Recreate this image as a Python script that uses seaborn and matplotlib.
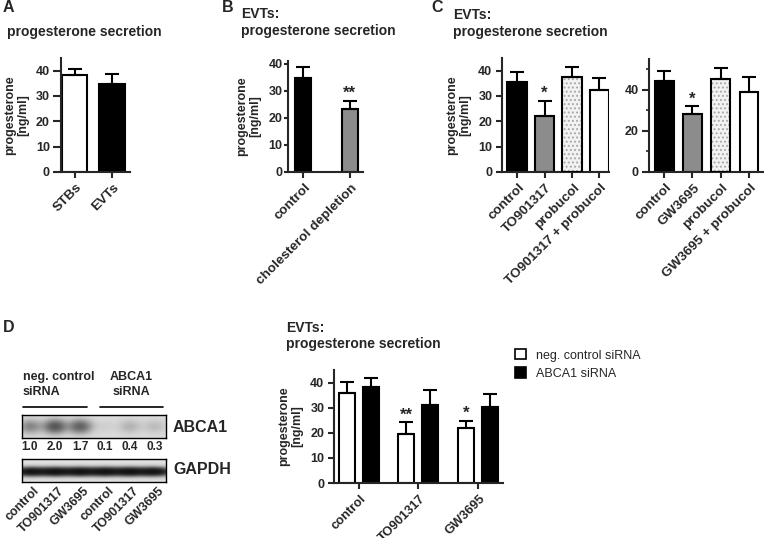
import numpy as np
import pandas as pd
import matplotlib
matplotlib.use("Agg")
import matplotlib.pyplot as plt
import matplotlib.transforms as mtransforms
from matplotlib.patches import Patch, Rectangle
from matplotlib.lines import Line2D
from matplotlib.ticker import MultipleLocator
import seaborn as sns

# ---------------- data ----------------
a_cats = ["STBs", "EVTs"]
a_vals = [38.4, 34.7]
a_errs = [2.4, 4.0]

b_cats = ["control", "cholesterol depletion"]
b_vals = [34.8, 23.1]
b_errs = [3.8, 3.3]
b_sig = ["", "**"]

c1_cats = ["control", "TO901317", "probucol", "TO901317 + probucol"]
c1_vals = [35.4, 22.0, 37.5, 32.2]
c1_errs = [3.9, 6.2, 3.9, 4.9]
c1_sig = ["", "*", "", ""]

c2_cats = ["control", "GW3695", "probucol", "GW3695 + probucol"]
c2_vals = [44.5, 28.2, 45.5, 38.7]
c2_errs = [4.6, 3.7, 5.2, 7.6]
c2_sig = ["", "*", "", ""]

d_groups = ["control", "TO901317", "GW3695"]
d_sirna = ["neg. control siRNA", "ABCA1 siRNA"]
d_neg_vals = [36.0, 19.5, 22.1]
d_neg_errs = [4.4, 4.6, 2.7]
d_neg_sig = ["", "**", "*"]
d_abca_vals = [38.4, 30.9, 30.1]
d_abca_errs = [3.3, 6.2, 5.3]

blot_lanes = ["control", "TO901317", "GW3695", "control", "TO901317", "GW3695"]
abca1_quant = [1.0, 2.0, 1.7, 0.1, 0.4, 0.3]
gapdh_level = [1.0, 1.0, 1.0, 1.0, 1.0, 1.0]

# ---------------- style ----------------
sns.set_style("ticks")
plt.rcParams["font.family"] = ["Liberation Sans", "DejaVu Sans"]
plt.rcParams["font.weight"] = "bold"
plt.rcParams["hatch.linewidth"] = 0.9

W, H = 764, 538
fig = plt.figure(figsize=(W / 100, H / 100), dpi=100)
fig.patch.set_facecolor("white")


def add_ax(x0, y0, x1, y1):
    return fig.add_axes([x0 / W, 1 - y1 / H, (x1 - x0) / W, (y1 - y0) / H])


def ftext(x, y, s, **kw):
    fig.text(x / W, 1 - y / H, s, **kw)


BLACK, WHITE, GRAY, LIGHT = "#000000", "#ffffff", "#8c8c8c", "#f2f2f2"


def style_axes(ax, ylim, xlim, ylabel=True, ylen=4.5, ypad=2.5):
    sns.despine(ax=ax)
    for s in ["left", "bottom"]:
        ax.spines[s].set_linewidth(1.5)
    ax.tick_params(axis="both", width=1.5, length=4, direction="out")
    ax.tick_params(axis="y", labelsize=9, length=ylen, pad=ypad)
    ax.set_ylim(*ylim)
    ax.set_xlim(*xlim)
    ax.set_xlabel("")
    if ylabel:
        ax.set_ylabel("progesterone\n[ng/ml]", fontsize=9, fontweight="bold",
                      linespacing=1.1, labelpad=5)
    else:
        ax.set_ylabel("")
    for lab in ax.get_yticklabels():
        lab.set_fontweight("bold")


def rot_labels(ax, cats, size=9.7):
    ax.set_xticks(range(len(cats)))
    ax.set_xticklabels(cats, rotation=45, ha="right", va="center",
                       rotation_mode="anchor", fontsize=size, fontweight="bold")
    off = mtransforms.ScaledTranslation(4 / 72, -2.5 / 72, fig.dpi_scale_trans)
    for lab in ax.get_xticklabels():
        lab.set_transform(lab.get_transform() + off)


def bar_panel(ax, cats, vals, errs, colors, width, sig=None, dotted=None):
    df = pd.DataFrame({"cat": cats, "val": vals})
    sns.barplot(data=df, x="cat", y="val", hue="cat", order=cats, hue_order=cats,
                palette=colors, legend=False, width=width, edgecolor="black",
                linewidth=1.5, saturation=1, errorbar=None, ax=ax)
    x = np.arange(len(cats))
    ax.errorbar(x, vals, yerr=[np.zeros(len(vals)), errs], fmt="none", ecolor="black",
                elinewidth=1.5, capsize=5, capthick=1.5, zorder=1)
    if dotted is not None:
        p = ax.patches[dotted]
        p.set_hatch("....")
        p.set_edgecolor("#a8a8a8")
        p.set_linewidth(0)
        ax.add_patch(Rectangle((p.get_x(), p.get_y()), p.get_width(), p.get_height(),
                               facecolor="none", edgecolor="black", lw=1.5, zorder=3))
    if sig:
        for i, s in enumerate(sig):
            if s:
                ax.text(i, vals[i] + errs[i], s, ha="center", va="bottom",
                        fontsize=12, fontweight="bold")


# ---------------- panel A ----------------
axA = add_ax(61, 58, 130, 172)
bar_panel(axA, a_cats, a_vals, a_errs, [WHITE, BLACK], 0.67)
style_axes(axA, (0, 45), (-0.36, 1.48), ylen=6, ypad=2)
axA.yaxis.set_major_locator(MultipleLocator(10))
rot_labels(axA, a_cats)

# ---------------- panel B ----------------
axB = add_ax(288, 61, 363, 172)
bar_panel(axB, b_cats, b_vals, b_errs, [BLACK, GRAY], 0.34, sig=b_sig)
style_axes(axB, (0, 41), (-0.32, 1.28), ylen=3, ypad=1)
axB.yaxis.set_major_locator(MultipleLocator(10))
rot_labels(axB, b_cats)

# ---------------- panel C ----------------
axC1 = add_ax(502, 58, 609, 172)
bar_panel(axC1, c1_cats, c1_vals, c1_errs, [BLACK, GRAY, LIGHT, WHITE], 0.7,
          sig=c1_sig, dotted=2)
style_axes(axC1, (0, 45), (-0.55, 3.35))
axC1.yaxis.set_major_locator(MultipleLocator(10))
rot_labels(axC1, c1_cats)

axC2 = add_ax(649, 59, 763, 172)
bar_panel(axC2, c2_cats, c2_vals, c2_errs, [BLACK, GRAY, LIGHT, WHITE], 0.66,
          sig=c2_sig, dotted=2)
style_axes(axC2, (0, 55), (-0.54, 3.5), ylabel=False, ylen=5)
axC2.yaxis.set_major_locator(MultipleLocator(20))
axC2.yaxis.set_minor_locator(MultipleLocator(10))
axC2.tick_params(axis="y", which="minor", width=1.2, length=2.5)
rot_labels(axC2, c2_cats)

# ---------------- panel D: bar chart ----------------
axD = add_ax(334, 370, 503, 483)
dfD = pd.DataFrame({
    "treatment": d_groups * 2,
    "siRNA": [d_sirna[0]] * 3 + [d_sirna[1]] * 3,
    "val": d_neg_vals + d_abca_vals,
})
sns.barplot(data=dfD, x="treatment", y="val", hue="siRNA", order=d_groups,
            hue_order=d_sirna, palette=[WHITE, BLACK], width=0.8, gap=0.33,
            edgecolor="black", linewidth=1.5, saturation=1, errorbar=None,
            legend=False, ax=axD)
xg = np.arange(len(d_groups))
for j, (vals, errs) in enumerate([(d_neg_vals, d_neg_errs), (d_abca_vals, d_abca_errs)]):
    axD.errorbar(xg + (j - 0.5) * 0.4, vals, yerr=[np.zeros(3), errs], fmt="none",
                 ecolor="black", elinewidth=1.5, capsize=5, capthick=1.5, zorder=1)
for i, s in enumerate(d_neg_sig):
    if s:
        axD.text(xg[i] - 0.2, d_neg_vals[i] + d_neg_errs[i], s, ha="center",
                 va="bottom", fontsize=12, fontweight="bold")
style_axes(axD, (0, 45), (-0.415, 2.42))
axD.yaxis.set_major_locator(MultipleLocator(10))
rot_labels(axD, d_groups, size=9.3)

handles = [Patch(facecolor=WHITE, edgecolor="black", linewidth=1.2),
           Patch(facecolor=BLACK, edgecolor="black", linewidth=1.2)]
fig.legend(handles, d_sirna, loc="upper left", bbox_to_anchor=(510 / W, 1 - 344 / H),
           frameon=False, prop={"weight": "normal", "size": 9}, handlelength=0.9,
           handleheight=0.9, labelspacing=0.45, handletextpad=0.8, borderaxespad=0)

# ---------------- panel D: western blot ----------------
ext = (-0.32, 5.44)


def blot(ax, levels, bg, floor, gain, sx, sy, yc=0.5):
    xs = np.linspace(ext[0], ext[1], 360)
    ys = np.linspace(0, 1, 60)
    X, Y = np.meshgrid(xs, ys)
    dark = np.zeros_like(X)
    for i, lv in enumerate(levels):
        dark += lv * np.exp(-((X - i) ** 2) / (2 * sx ** 2) - ((Y - yc) ** 2) / (2 * sy ** 2))
    img = bg - (bg - floor) * (1 - np.exp(-gain * dark))
    ax.imshow(img, cmap="gray", vmin=0, vmax=1, extent=(ext[0], ext[1], 0, 1),
              aspect="auto", interpolation="bilinear", origin="lower")
    ax.set_xlim(*ext)
    ax.set_ylim(0, 1)
    ax.set_yticks([])
    for s in ax.spines.values():
        s.set_visible(True)
        s.set_linewidth(1.0)
        s.set_color("black")


axW1 = add_ax(22, 415, 166, 438)
blot(axW1, abca1_quant, 0.86, 0.12, 0.6, 0.3, 0.2)
axW1.set_xticks([])
trans = mtransforms.blended_transform_factory(axW1.transData, axW1.transAxes)
for i, q in enumerate(abca1_quant):
    axW1.text(i, -0.4, f"{q:.1f}", transform=trans, ha="center", va="center",
              fontsize=8.5, fontweight="bold")

axW2 = add_ax(22, 459, 166, 482)
blot(axW2, gapdh_level, 0.88, 0.02, 2.5, 0.42, 0.12, yc=0.45)
axW2.set_xticks(range(len(blot_lanes)))
axW2.set_xticklabels(blot_lanes, rotation=45, ha="right", va="center",
                     rotation_mode="anchor", fontsize=9, fontweight="bold")
axW2.tick_params(axis="x", length=0, pad=2)
off = mtransforms.ScaledTranslation(5 / 72, -3 / 72, fig.dpi_scale_trans)
for lab in axW2.get_xticklabels():
    lab.set_transform(lab.get_transform() + off)

ftext(173, 428, "ABCA1", fontsize=11.5, fontweight="bold", va="center")
ftext(173, 469, "GAPDH", fontsize=11.5, fontweight="bold", va="center")
ftext(23, 377, "neg. control", fontsize=9, fontweight="bold", va="center")
ftext(23, 392, "siRNA", fontsize=9, fontweight="bold", va="center")
ftext(131, 377, "ABCA1", fontsize=9, fontweight="bold", va="center", ha="center")
ftext(131, 392, "siRNA", fontsize=9, fontweight="bold", va="center", ha="center")
for (xa, xb) in [(23, 87), (100, 163)]:
    fig.add_artist(Line2D([xa / W, xb / W], [1 - 407 / H, 1 - 407 / H],
                          color="black", lw=1.2))

# ---------------- titles & letters ----------------
ftext(3, 8, "A", fontsize=11.5, fontweight="bold", va="center")
ftext(222, 8, "B", fontsize=11.5, fontweight="bold", va="center")
ftext(431, 8, "C", fontsize=11.5, fontweight="bold", va="center")
ftext(3, 328, "D", fontsize=11.5, fontweight="bold", va="center")

ftext(7, 32, "progesterone secretion", fontsize=10, fontweight="bold", va="center")
ftext(241, 14, "EVTs:", fontsize=10, fontweight="bold", va="center")
ftext(241, 31, "progesterone secretion", fontsize=10, fontweight="bold", va="center")
ftext(453, 15, "EVTs:", fontsize=10, fontweight="bold", va="center")
ftext(453, 32, "progesterone secretion", fontsize=10, fontweight="bold", va="center")
ftext(286, 328, "EVTs:", fontsize=10, fontweight="bold", va="center")
ftext(286, 344, "progesterone secretion", fontsize=10, fontweight="bold", va="center")

fig.savefig("out.png", dpi=100)
